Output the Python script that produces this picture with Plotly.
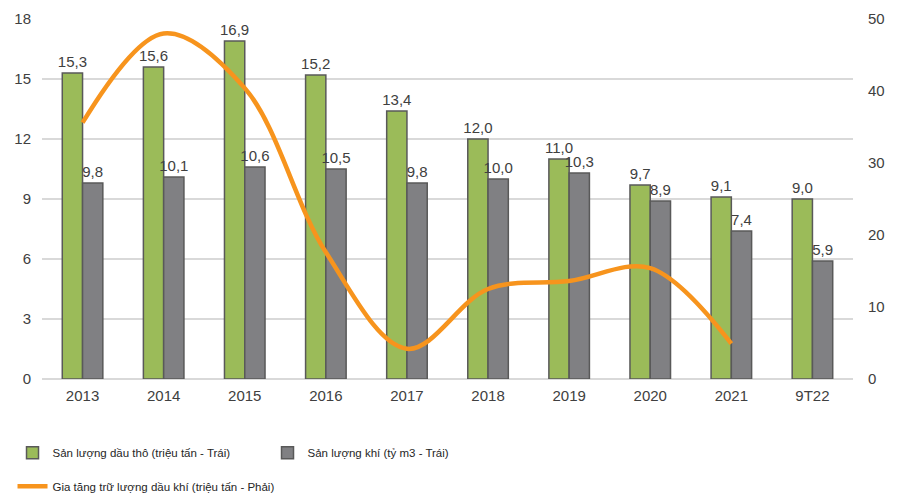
import plotly.graph_objects as go

categories = ["2013", "2014", "2015", "2016", "2017", "2018", "2019", "2020", "2021", "9T22"]
crude_oil = [15.3, 15.6, 16.9, 15.2, 13.4, 12.0, 11.0, 9.7, 9.1, 9.0]
gas = [9.8, 10.1, 10.6, 10.5, 9.8, 10.0, 10.3, 8.9, 7.4, 5.9]
reserve_growth = [35.6, 48.0, 40.4, 17.6, 4.2, 12.5, 13.6, 15.4, 4.9, None]

left_ticks = [0, 3, 6, 9, 12, 15, 18]
right_ticks = [0, 10, 20, 30, 40, 50]

def fmt(v):
    return f"{v:.1f}".replace(".", ",")

FONT = "Liberation Sans, Arial, sans-serif"
TXT = "#404040"
LEG_FONT = dict(family=FONT, size=11.5, color="#262626")

fig = go.Figure()
fig.add_trace(go.Bar(
    x=categories, y=crude_oil, name="Sản lượng dầu thô (triệu tấn - Trái)",
    marker=dict(color="#9BBB59", line=dict(color="#595959", width=1.5)),
    text=[fmt(v) for v in crude_oil], textposition="outside", cliponaxis=False,
    constraintext="none", textfont=dict(size=15, color=TXT, family=FONT),
    legend="legend",
))
fig.add_trace(go.Bar(
    x=categories, y=gas, name="Sản lượng khí (tỷ m3 - Trái)",
    marker=dict(color="#808083", line=dict(color="#595959", width=1.5)),
    text=[fmt(v) for v in gas], textposition="outside", cliponaxis=False,
    constraintext="none", textfont=dict(size=15, color=TXT, family=FONT),
    legend="legend",
))
fig.add_trace(go.Scatter(
    x=categories, y=reserve_growth, name="Gia tăng trữ lượng dầu khí (triệu tấn - Phải)",
    mode="lines", line=dict(color="#F7941D", width=4.5, shape="spline", smoothing=1.0),
    yaxis="y2", connectgaps=False, legend="legend2",
))

fig.update_layout(
    width=903, height=493,
    margin=dict(l=34, r=58, t=11, b=122, autoexpand=False),
    paper_bgcolor="white", plot_bgcolor="white",
    barmode="group", bargap=0.5, bargroupgap=0,
    font=dict(family=FONT, size=15, color=TXT),
    xaxis=dict(showgrid=False, showline=False, ticks="", tickfont=dict(size=15, color=TXT),
               ticklabelstandoff=6, automargin=False),
    yaxis=dict(range=[0, 18], tickvals=left_ticks, showgrid=True, gridcolor="#D9D9D9",
               gridwidth=1.5, zeroline=True, zerolinecolor="#D9D9D9", zerolinewidth=1.5,
               showline=False, ticks="", tickfont=dict(size=15, color=TXT), ticklabelstandoff=10,
               automargin=False),
    yaxis2=dict(range=[0, 50], tickvals=right_ticks, overlaying="y", side="right",
                showgrid=False, zeroline=False, showline=False, ticks="",
                tickfont=dict(size=15, color=TXT), ticklabelstandoff=14, automargin=False),
    legend=dict(orientation="h", xref="container", yref="container", x=0.005, y=0.098,
                xanchor="left", yanchor="middle", entrywidth=210, entrywidthmode="pixels",
                font=LEG_FONT, bgcolor="rgba(0,0,0,0)", traceorder="normal"),
    legend2=dict(orientation="h", xref="container", yref="container", x=0.005, y=0.03,
                 xanchor="left", yanchor="middle", font=LEG_FONT, bgcolor="rgba(0,0,0,0)"),
    showlegend=True,
)

fig.write_html("out.html")
